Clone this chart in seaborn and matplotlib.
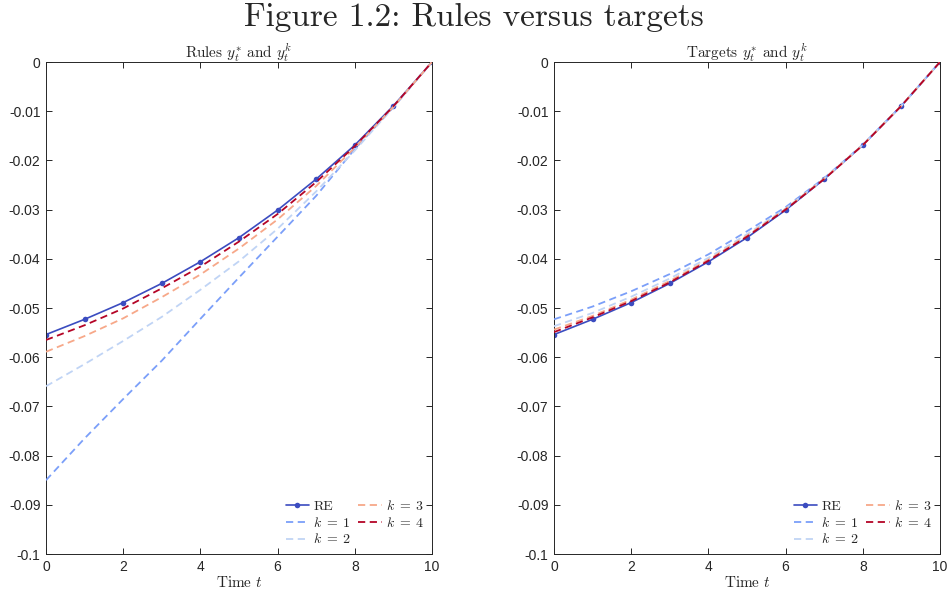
import numpy as np
import pandas as pd
import matplotlib
matplotlib.use("Agg")
import matplotlib.pyplot as plt
import seaborn as sns
from matplotlib.ticker import FuncFormatter

sns.set_theme(style="white")
plt.rcParams['font.family'] = ['Liberation Sans', 'DejaVu Sans']
plt.rcParams['mathtext.fontset'] = 'cm'

t = list(range(11))
re_path = [-0.0554, -0.0523, -0.0489, -0.0450, -0.0406, -0.0357, -0.0301, -0.0238, -0.0169, -0.0089, 0.0]

rules_k1 = [-0.0850, -0.0765, -0.0685, -0.0607, -0.0522, -0.0438, -0.0355, -0.0272, -0.0177, -0.0092, 0.0]
rules_k2 = [-0.0659, -0.0614, -0.0567, -0.0518, -0.0463, -0.0405, -0.0339, -0.0263, -0.0180, -0.0092, 0.0]
rules_k3 = [-0.0589, -0.0557, -0.0521, -0.0478, -0.0432, -0.0379, -0.0320, -0.0252, -0.0174, -0.0091, 0.0]
rules_k4 = [-0.0565, -0.0535, -0.0501, -0.0460, -0.0416, -0.0365, -0.0309, -0.0244, -0.0171, -0.0090, 0.0]

targ_k1 = [-0.0523, -0.0497, -0.0466, -0.0431, -0.0391, -0.0344, -0.0295, -0.0236, -0.0168, -0.0089, 0.0]
targ_k2 = [-0.0537, -0.0510, -0.0477, -0.0440, -0.0398, -0.0350, -0.0298, -0.0237, -0.0168, -0.0089, 0.0]
targ_k3 = [-0.0544, -0.0516, -0.0483, -0.0445, -0.0402, -0.0353, -0.0299, -0.0237, -0.0169, -0.0089, 0.0]
targ_k4 = [-0.0549, -0.0519, -0.0486, -0.0448, -0.0404, -0.0355, -0.0300, -0.0238, -0.0169, -0.0089, 0.0]

labels = ["RE", r"$k\;=\;1$", r"$k\;=\;2$", r"$k\;=\;3$", r"$k\;=\;4$"]
colors = ["#3b4cc0", "#7b9ff9", "#c0d4f5", "#f7a889", "#b40426"]
xticks = [0, 2, 4, 6, 8, 10]
yticks = [0, -0.01, -0.02, -0.03, -0.04, -0.05, -0.06, -0.07, -0.08, -0.09, -0.1]

fig = plt.figure(figsize=(9.48, 5.92), dpi=100)
axL = fig.add_axes([46/948, 38/592, 386/948, 492/592])
axR = fig.add_axes([554/948, 38/592, 386/948, 492/592])

def fmt(v, pos):
    if abs(v) < 1e-12:
        return "0"
    s = f"{v:.2f}"
    if s == "-0.10":
        return "-0.1"
    return s

def draw(ax, series, title):
    for i, (lab, vals) in enumerate(zip(labels, series)):
        if i == 0:
            sns.lineplot(x=t, y=vals, ax=ax, color=colors[i], linewidth=1.2,
                         marker='o', markersize=4, markeredgewidth=0, label=lab, zorder=2)
        else:
            sns.lineplot(x=t, y=vals, ax=ax, color=colors[i], linewidth=1.3,
                         label=lab, zorder=3)
            ax.lines[-1].set_linestyle((0, (4, 2.5)))
    ax.set_xlim(0, 10)
    ax.set_ylim(-0.1, 0)
    ax.set_xticks(xticks)
    ax.set_yticks(yticks)
    ax.yaxis.set_major_formatter(FuncFormatter(fmt))
    ax.tick_params(direction='in', length=4, width=0.7, colors='#262626',
                   labelsize=10, top=True, right=True, left=True, bottom=True, pad=4)
    for sp in ax.spines.values():
        sp.set_visible(True)
        sp.set_color('#262626')
        sp.set_linewidth(0.7)
    ax.set_title(title, fontsize=11, pad=3, family='cmr10')
    ax.set_xlabel(r"Time $t$", fontsize=11, labelpad=1, family='cmr10')
    ax.set_ylabel("")
    ax.grid(False)
    ax.legend(loc='lower right', ncol=2, frameon=False,
              handlelength=1.7, handletextpad=0.3, columnspacing=0.5,
              labelspacing=0.2, borderaxespad=0.15, prop={'family': 'cmr10', 'size': 10})

draw(axL, [re_path, rules_k1, rules_k2, rules_k3, rules_k4], r"Rules $y_t^{*}$ and $y_t^{k}$")
draw(axR, [re_path, targ_k1, targ_k2, targ_k3, targ_k4], r"Targets $y_t^{*}$ and $y_t^{k}$")

fig.text(0.5, 0.995, "Figure 1.2: Rules versus targets", ha='center', va='top',
         fontsize=24, family='cmr10')

fig.savefig("out.png", dpi=100)
